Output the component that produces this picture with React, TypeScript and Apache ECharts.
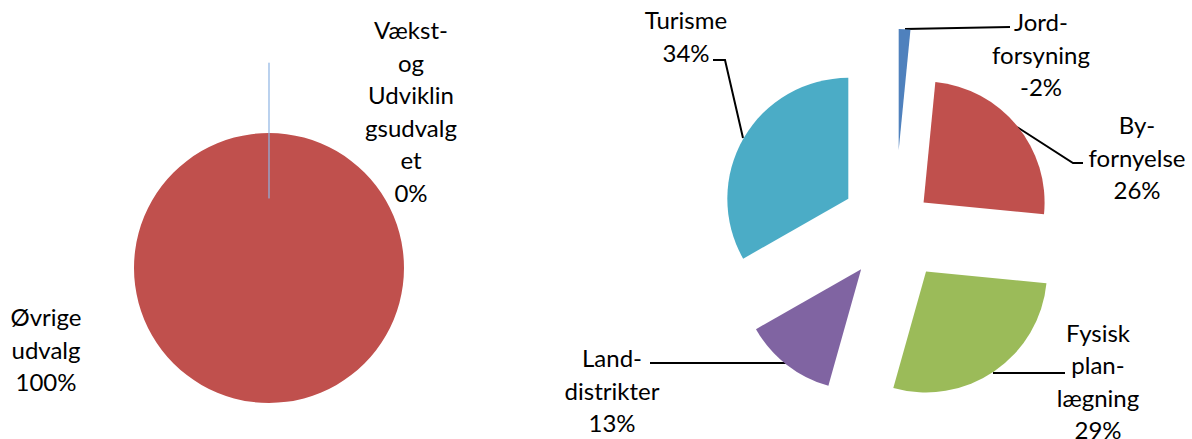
import React, { useEffect, useRef } from "react";
import * as echarts from "echarts";

// ---- data ----
const leftCategories = ["Vækst-\nog\nUdviklin\ngsudvalg\net", "Øvrige\nudvalg"];
const leftValues = [0, 100];

const rightCategories = ["Jord-\nforsyning", "By-\nfornyelse", "Fysisk\nplan-\nlægning", "Land-\ndistrikter", "Turisme"];
const rightValues = [-1.6, 25.8, 28.7, 12.8, 34.3];

// ---- style / layout ----
const leftColors = ["#8EB4E3", "#C0504D"];
const rightColors = ["#4F81BD", "#C0504D", "#9BBB59", "#8064A2", "#4BACC6"];

const FONT = "Lato";
const FONT_SIZE = 24;
const LINE_H = 32.5;

const LEFT_CENTER = [269, 268];
const LEFT_RADIUS = 135;
const LEFT_EXPLODE = [70, 0];
const LEFT_LABEL_POS = [[411, 111], [46, 349]];

const RIGHT_CENTER = [895, 226];
const RIGHT_RADIUS = 121;
const RIGHT_EXPLODE = [76, 37, 55, 55, 54];
const RIGHT_LABEL_POS = [[1041, 54], [1137, 157], [1098, 381], [612, 390], [686, 36]];
const RIGHT_LEADERS = [
  [[905, 29], [957, 28], [1010, 27]],
  [[1017, 127], [1073, 163], [1083, 163]],
  [[993, 373], [1029, 373], [1065, 373]],
  [[786, 363], [718, 363], [650, 363]],
  [[743, 138], [725, 60], [713, 60]],
];

function pct(vals: number[], i: number) {
  const s = vals.reduce((a, b) => a + b, 0);
  return Math.round((vals[i] / s) * 100);
}

function makeSeries(
  names: string[],
  vals: number[],
  colors: string[],
  center: number[],
  radius: number,
  explode: number[],
  labelPos: number[][],
  leaders: number[][][] | null
) {
  const absVals = vals.map((v) => Math.abs(v));
  const total = absVals.reduce((a, b) => a + b, 0);
  let cum = 0;
  return names.map((_, i) => {
    const mid = ((cum + absVals[i] / 2) / total) * Math.PI * 2;
    cum += absVals[i];
    const cx = center[0] + explode[i] * Math.sin(mid);
    const cy = center[1] - explode[i] * Math.cos(mid);
    const isZero = vals[i] === 0;
    return {
      type: "pie",
      z: isZero ? 3 : 2,
      center: [cx, cy],
      radius,
      startAngle: 90,
      clockwise: true,
      avoidLabelOverlap: false,
      silent: true,
      emphasis: { disabled: true },
      label: {
        show: true,
        position: "outside",
        formatter: `${names[i]}\n${pct(vals, i)}%`,
        color: "#000",
        fontFamily: FONT,
        fontSize: FONT_SIZE,
        lineHeight: LINE_H,
        align: "center",
      },
      labelLine: {
        show: !!leaders,
        smooth: false,
        lineStyle: { color: "#000", width: 2 },
      },
      labelLayout: () => {
        const o: any = {
          x: labelPos[i][0],
          y: labelPos[i][1],
          align: "center",
          verticalAlign: "middle",
        };
        if (leaders) o.labelLinePoints = leaders[i];
        return o;
      },
      data: names.map((n, j) => ({
        name: n,
        value: absVals[j],
        itemStyle:
          j === i
            ? {
                color: colors[j],
                borderColor: colors[j],
                borderWidth: isZero ? 1.2 : 0,
              }
            : { color: "rgba(0,0,0,0)", borderWidth: 0 },
        label: { show: j === i },
        labelLine: { show: j === i && !!leaders },
      })),
    };
  });
}

export default function App() {
  const ref = useRef<HTMLDivElement>(null);
  useEffect(() => {
    if (!ref.current) return;
    const chart = echarts.init(ref.current, null, { renderer: "svg" });
    const series = [
      ...makeSeries(leftCategories, leftValues, leftColors, LEFT_CENTER, LEFT_RADIUS, LEFT_EXPLODE, LEFT_LABEL_POS, null),
      ...makeSeries(rightCategories, rightValues, rightColors, RIGHT_CENTER, RIGHT_RADIUS, RIGHT_EXPLODE, RIGHT_LABEL_POS, RIGHT_LEADERS),
    ];
    chart.setOption({
      animation: false,
      backgroundColor: "#fff",
      series,
    } as any);
    return () => chart.dispose();
  }, []);
  return (
    <div
      ref={ref}
      style={{ position: "fixed", left: 0, top: 0, width: 1192, height: 439 }}
    />
  );
}
